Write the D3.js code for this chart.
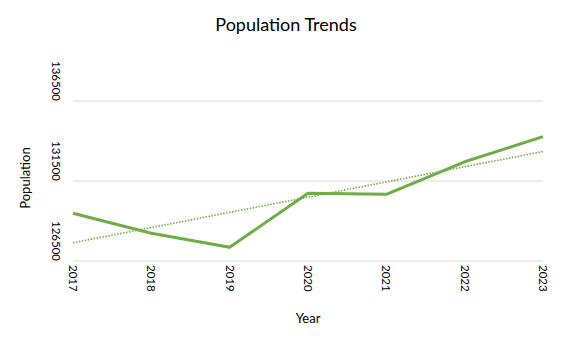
<!DOCTYPE html>
<html>
<head>
<meta charset="utf-8">
<script src="https://cdn.jsdelivr.net/npm/d3@7"></script>
<style>
  html, body { margin: 0; padding: 0; background: #fff; }
  svg text { font-family: Lato, "Open Sans", sans-serif; fill: #000; }
</style>
</head>
<body>
<svg id="chart" width="572" height="338"></svg>
<script>
// Population by year
const years = ["2017", "2018", "2019", "2020", "2021", "2022", "2023"];
const population = [129480, 128230, 127360, 130730, 130670, 132700, 134270];
const yTicks = [126500, 131500, 136500];

const W = 572, H = 338;
const margin = { top: 101, right: 29, bottom: 77, left: 73 };
const svg = d3.select("#chart");

const x = d3.scalePoint().domain(years).range([margin.left, W - margin.right]);
const y = d3.scaleLinear().domain([126500, 136500]).range([H - margin.bottom, margin.top]);

// Horizontal gridlines
svg.append("g")
  .selectAll("line")
  .data(yTicks)
  .join("line")
  .attr("x1", margin.left)
  .attr("x2", W - margin.right)
  .attr("y1", d => y(d))
  .attr("y2", d => y(d))
  .attr("stroke", "#d9d9d9")
  .attr("stroke-width", 1);

// Y tick labels, rotated
svg.append("g")
  .selectAll("text")
  .data(yTicks)
  .join("text")
  .attr("transform", d => `translate(56,${y(d)}) rotate(90)`)
  .attr("text-anchor", "end")
  .attr("dy", "0.35em")
  .attr("font-size", 11.5)
  .text(d => d);

// X tick labels, rotated
svg.append("g")
  .selectAll("text")
  .data(years)
  .join("text")
  .attr("transform", d => `translate(${x(d)},265) rotate(90)`)
  .attr("text-anchor", "start")
  .attr("dy", "0.35em")
  .attr("font-size", 11.5)
  .text(d => d);

// Linear trend (least squares over year index)
const n = population.length;
const idx = d3.range(n);
const mx = d3.mean(idx), my = d3.mean(population);
const slope = d3.sum(idx, i => (i - mx) * (population[i] - my)) / d3.sum(idx, i => (i - mx) ** 2);
const intercept = my - slope * mx;
const trend = idx.map(i => intercept + slope * i);

svg.append("path")
  .datum(trend)
  .attr("fill", "none")
  .attr("stroke", "#70ad47")
  .attr("stroke-width", 1.6)
  .attr("stroke-dasharray", "1.5,1.5")
  .attr("d", d3.line().x((d, i) => x(years[i])).y(d => y(d)));

// Population line
svg.append("path")
  .datum(population)
  .attr("fill", "none")
  .attr("stroke", "#70ad47")
  .attr("stroke-width", 3)
  .attr("stroke-linejoin", "round")
  .attr("d", d3.line().x((d, i) => x(years[i])).y(d => y(d)));

// Title and axis titles
svg.append("text")
  .attr("x", 286).attr("y", 31)
  .attr("text-anchor", "middle")
  .attr("font-size", 18)
  .text("Population Trends");

svg.append("text")
  .attr("transform", "translate(30,178) rotate(-90)")
  .attr("text-anchor", "middle")
  .attr("font-size", 13)
  .text("Population");

svg.append("text")
  .attr("x", 308).attr("y", 323)
  .attr("text-anchor", "middle")
  .attr("font-size", 13)
  .text("Year");
</script>
</body>
</html>
